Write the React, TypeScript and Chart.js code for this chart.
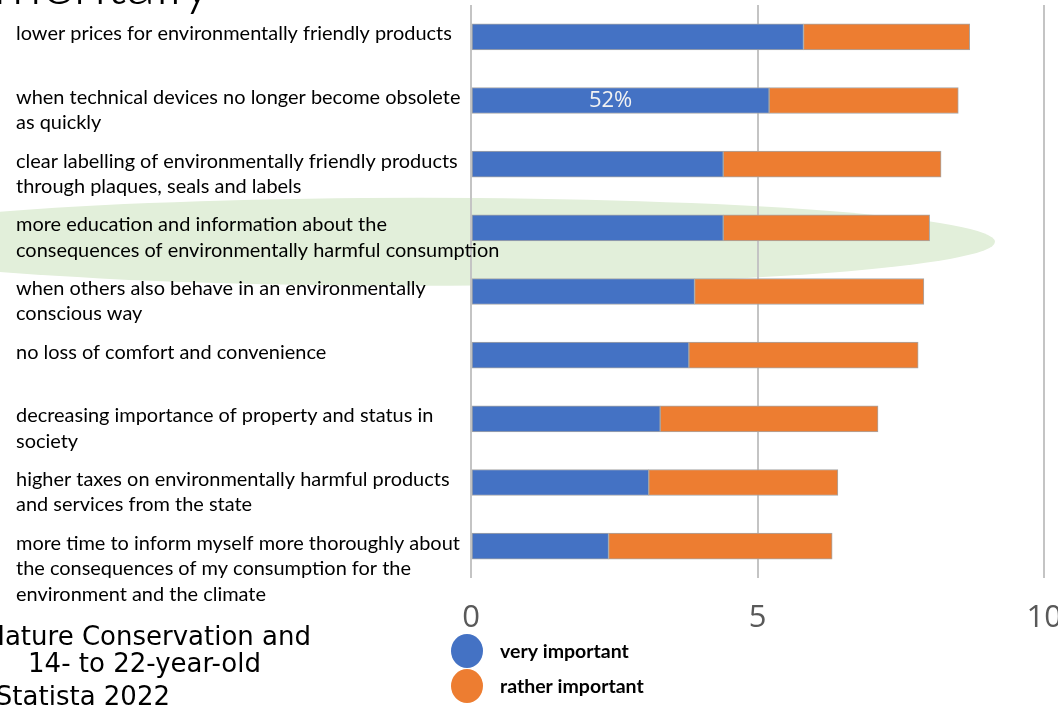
import React, { useEffect, useRef } from "react";
import { Chart, registerables } from "chart.js";

Chart.register(...registerables);

const categories: string[][] = [
  ["lower prices for environmentally friendly products"],
  ["when technical devices no longer become obsolete", "as quickly"],
  ["clear labelling of environmentally friendly products", "through plaques, seals and labels"],
  ["more education and information about the", "consequences of environmentally harmful consumption"],
  ["when others also behave in an environmentally", "conscious way"],
  ["no loss of comfort and convenience"],
  ["decreasing importance of property and status in", "society"],
  ["higher taxes on environmentally harmful products", "and services from the state"],
  [
    "more time to inform myself more thoroughly about",
    "the consequences of my consumption for the",
    "environment and the climate",
  ],
];

const veryImportant = [5.8, 5.2, 4.4, 4.4, 3.9, 3.8, 3.3, 3.1, 2.4];
const ratherImportant = [2.9, 3.3, 3.8, 3.6, 4.0, 4.0, 3.8, 3.3, 3.9];
const veryLabels = ["", "52%", "", "", "", "", "", "", ""];

const seriesNames = ["very important", "rather important"];
const seriesColors = ["#4472C4", "#ED7D31"];

const titleTail = "What young people need to act more environmentally";
const sourceLines = [
  "Source: Federal Ministry for the Environment, Nature Conservation and",
  "Youth survey 2021 among    14- to 22-year-old",
  "young people in Germany; Statista 2022",
];
const highlightIndex = 3;

const decor = {
  id: "decor",
  beforeDraw(chart: any) {
    const ctx = chart.ctx;
    const y = chart.scales.y;
    const cy = y.getPixelForValue(highlightIndex) + 14;
    ctx.save();
    ctx.fillStyle = "#e2efda";
    ctx.beginPath();
    ctx.ellipse(420, cy, 575, 44, 0, 0, Math.PI * 2);
    ctx.fill();
    ctx.restore();
  },
  afterDraw(chart: any) {
    const ctx = chart.ctx;
    const y = chart.scales.y;
    ctx.save();

    // category labels
    ctx.fillStyle = "#000";
    ctx.textAlign = "left";
    ctx.textBaseline = "middle";
    ctx.font = "100px Lato";
    const w100 = ctx.measureText(categories[0][0]).width;
    const size = (436 / w100) * 100;
    ctx.font = `${size.toFixed(2)}px Lato`;
    categories.forEach((lines, i) => {
      const cy = y.getPixelForValue(i) - 3;
      lines.forEach((ln, j) => ctx.fillText(ln, 16, cy + j * 25.5));
    });

    // value label
    const meta = chart.getDatasetMeta(0);
    ctx.fillStyle = "#f2f2f2";
    ctx.textAlign = "center";
    ctx.font = "22px 'Open Sans'";
    meta.data.forEach((bar: any, i: number) => {
      if (!veryLabels[i]) return;
      ctx.fillText(veryLabels[i], (bar.x + bar.base) / 2 - 10, bar.y);
    });

    // title (cropped)
    ctx.fillStyle = "#000";
    ctx.textAlign = "right";
    ctx.textBaseline = "alphabetic";
    ctx.font = "300 60px Lato";
    ctx.fillText(titleTail, 212, 4);

    // source (cropped)
    ctx.font = "26px 'DejaVu Sans'";
    const ends = [311, 261, 170];
    const bases = [645, 672, 705];
    sourceLines.forEach((s, i) => ctx.fillText(s, ends[i], bases[i]));

    // legend
    ctx.textAlign = "left";
    ctx.textBaseline = "middle";
    ctx.font = "bold 19.5px Lato";
    seriesNames.forEach((n, i) => {
      const cy = 651 + i * 35;
      ctx.fillStyle = seriesColors[i];
      ctx.beginPath();
      ctx.ellipse(467, cy, 16, 17, 0, 0, Math.PI * 2);
      ctx.fill();
      ctx.fillStyle = "#000";
      ctx.fillText(n, 500, cy + 1);
    });

    ctx.restore();
  },
};

export default function App() {
  const ref = useRef<HTMLCanvasElement>(null);
  useEffect(() => {
    const chart = new Chart(ref.current as HTMLCanvasElement, {
      type: "bar",
      data: {
        labels: categories,
        datasets: [
          {
            label: seriesNames[0],
            data: veryImportant,
            backgroundColor: seriesColors[0],
            borderColor: "#a6a6a6",
            borderWidth: 1,
            borderSkipped: false,
            barThickness: 26,
          },
          {
            label: seriesNames[1],
            data: ratherImportant,
            backgroundColor: seriesColors[1],
            borderColor: "#a6a6a6",
            borderWidth: 1,
            borderSkipped: false,
            barThickness: 26,
          },
        ],
      },
      plugins: [decor],
      options: {
        indexAxis: "y",
        responsive: false,
        animation: false,
        devicePixelRatio: 1,
        layout: { padding: { left: 471, right: 28, top: 5, bottom: 0 } },
        plugins: {
          legend: { display: false },
          tooltip: { enabled: false },
          title: { display: false },
        },
        scales: {
          y: {
            stacked: true,
            display: false,
            grid: { display: false },
          },
          x: {
            stacked: true,
            min: 0,
            max: 10,
            border: { display: false },
            grid: { color: "#c4c4c4", lineWidth: 2, drawTicks: false },
            ticks: {
              stepSize: 5,
              padding: 22,
              color: "#595959",
              font: { family: "'Open Sans'", size: 31, weight: "normal", lineHeight: 1.2 },
            },
            afterFit: (scale: any) => {
              scale.height = 128;
            },
          },
        },
      },
    } as any);
    return () => chart.destroy();
  }, []);
  return (
    <div
      style={{
        position: "fixed",
        left: 0,
        top: 0,
        width: 1058,
        height: 706,
        overflow: "hidden",
        background: "#fff",
      }}
    >
      <canvas ref={ref} width={1084} height={706} style={{ display: "block" }} />
    </div>
  );
}
